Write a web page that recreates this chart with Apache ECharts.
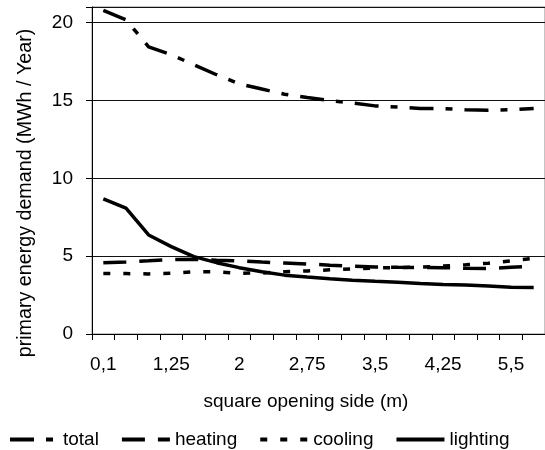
<!DOCTYPE html>
<html>
<head>
<meta charset="utf-8">
<script src="https://cdn.jsdelivr.net/npm/echarts@6/dist/echarts.min.js"></script>
<style>
html,body{margin:0;padding:0;background:#fff;}
#chart{width:545px;height:450px;}
</style>
</head>
<body>
<div id="chart"></div>
<script>
var categories = ["0,1","0,5","1","1,25","1,5","1,75","2","2,25","2,5","2,75","3","3,25","3,5","3,75","4","4,25","4,5","5","5,5","6"];
var total    = [20.78, 20.18, 18.44, 17.93, 17.29, 16.65, 16.07, 15.73, 15.40, 15.19, 14.99, 14.83, 14.65, 14.57, 14.48, 14.48, 14.40, 14.37, 14.40, 14.48];
var heating  = [4.58, 4.63, 4.70, 4.78, 4.80, 4.74, 4.70, 4.62, 4.56, 4.50, 4.42, 4.36, 4.30, 4.28, 4.27, 4.26, 4.22, 4.20, 4.28, 4.35];
var cooling  = [3.88, 3.88, 3.86, 3.90, 4.00, 4.00, 3.90, 3.92, 4.00, 4.05, 4.12, 4.18, 4.24, 4.27, 4.30, 4.36, 4.45, 4.55, 4.70, 4.86];
var lighting = [8.68, 8.08, 6.36, 5.61, 4.97, 4.58, 4.26, 4.00, 3.78, 3.66, 3.55, 3.45, 3.38, 3.32, 3.24, 3.18, 3.15, 3.08, 3.00, 2.98];
var seriesNames = ["total", "heating", "cooling", "lighting"];
var yTicks = [0, 5, 10, 15, 20];
var xTitle = "square opening side (m)";
var yTitle = "primary energy demand (MWh / Year)";

var FONT = "'Liberation Sans', Arial, sans-serif";
var chart = echarts.init(document.getElementById('chart'), null, {renderer: 'canvas'});
function mk(name, data, dash) {
  return {
    name: name, type: 'line', data: data, symbol: 'none', smooth: false,
    lineStyle: {color: '#000', width: 3.5, type: dash, cap: 'butt'},
    itemStyle: {color: '#000'},
    animation: false
  };
}
chart.setOption({
  animation: false,
  backgroundColor: '#fff',
  textStyle: {fontFamily: FONT, color: '#000'},
  grid: {left: 92, top: 7, right: -2, bottom: 116, show: true, borderColor: '#888', borderWidth: 1},
  xAxis: {
    type: 'category', data: categories, boundaryGap: true,
    axisLine: {lineStyle: {color: '#000', width: 1}},
    axisTick: {show: true, interval: 0, length: 6, lineStyle: {color: '#000'}},
    axisLabel: {interval: 2, margin: 21, fontSize: 19, color: '#000', fontFamily: FONT},
    splitLine: {show: false}
  },
  yAxis: {
    type: 'value', min: 0, max: 21, interval: 5,
    axisLine: {show: true, lineStyle: {color: '#000', width: 1}},
    axisTick: {show: true, length: 6, lineStyle: {color: '#000'}},
    axisLabel: {margin: 19, fontSize: 19, color: '#000', fontFamily: FONT,
      formatter: function (v) { return yTicks.indexOf(v) >= 0 ? String(v) : ''; }},
    splitLine: {show: true, lineStyle: {color: '#111', width: 1}}
  },
  legend: {
    data: seriesNames, left: 3, top: 425, itemWidth: 48, itemHeight: 14, itemGap: 21,
    itemStyle: {opacity: 0},
    lineStyle: {width: 4},
    textStyle: {fontSize: 19, color: '#000', fontFamily: FONT}
  },
  graphic: [
    {type: 'text', x: 26, y: 193, rotation: Math.PI / 2,
      style: {text: yTitle, font: "19.7px 'Liberation Sans', Arial, sans-serif", fill: '#000', textAlign: 'center', textVerticalAlign: 'middle'}},
    {type: 'text', x: 306, y: 402,
      style: {text: xTitle, font: "19px 'Liberation Sans', Arial, sans-serif", fill: '#000', textAlign: 'center', textVerticalAlign: 'middle'}}
  ],
  series: [
    mk(seriesNames[0], total, [24, 12, 7, 12]),
    mk(seriesNames[1], heating, [23, 13]),
    mk(seriesNames[2], cooling, [7, 13]),
    mk(seriesNames[3], lighting, 'solid')
  ]
});
</script>
</body>
</html>
